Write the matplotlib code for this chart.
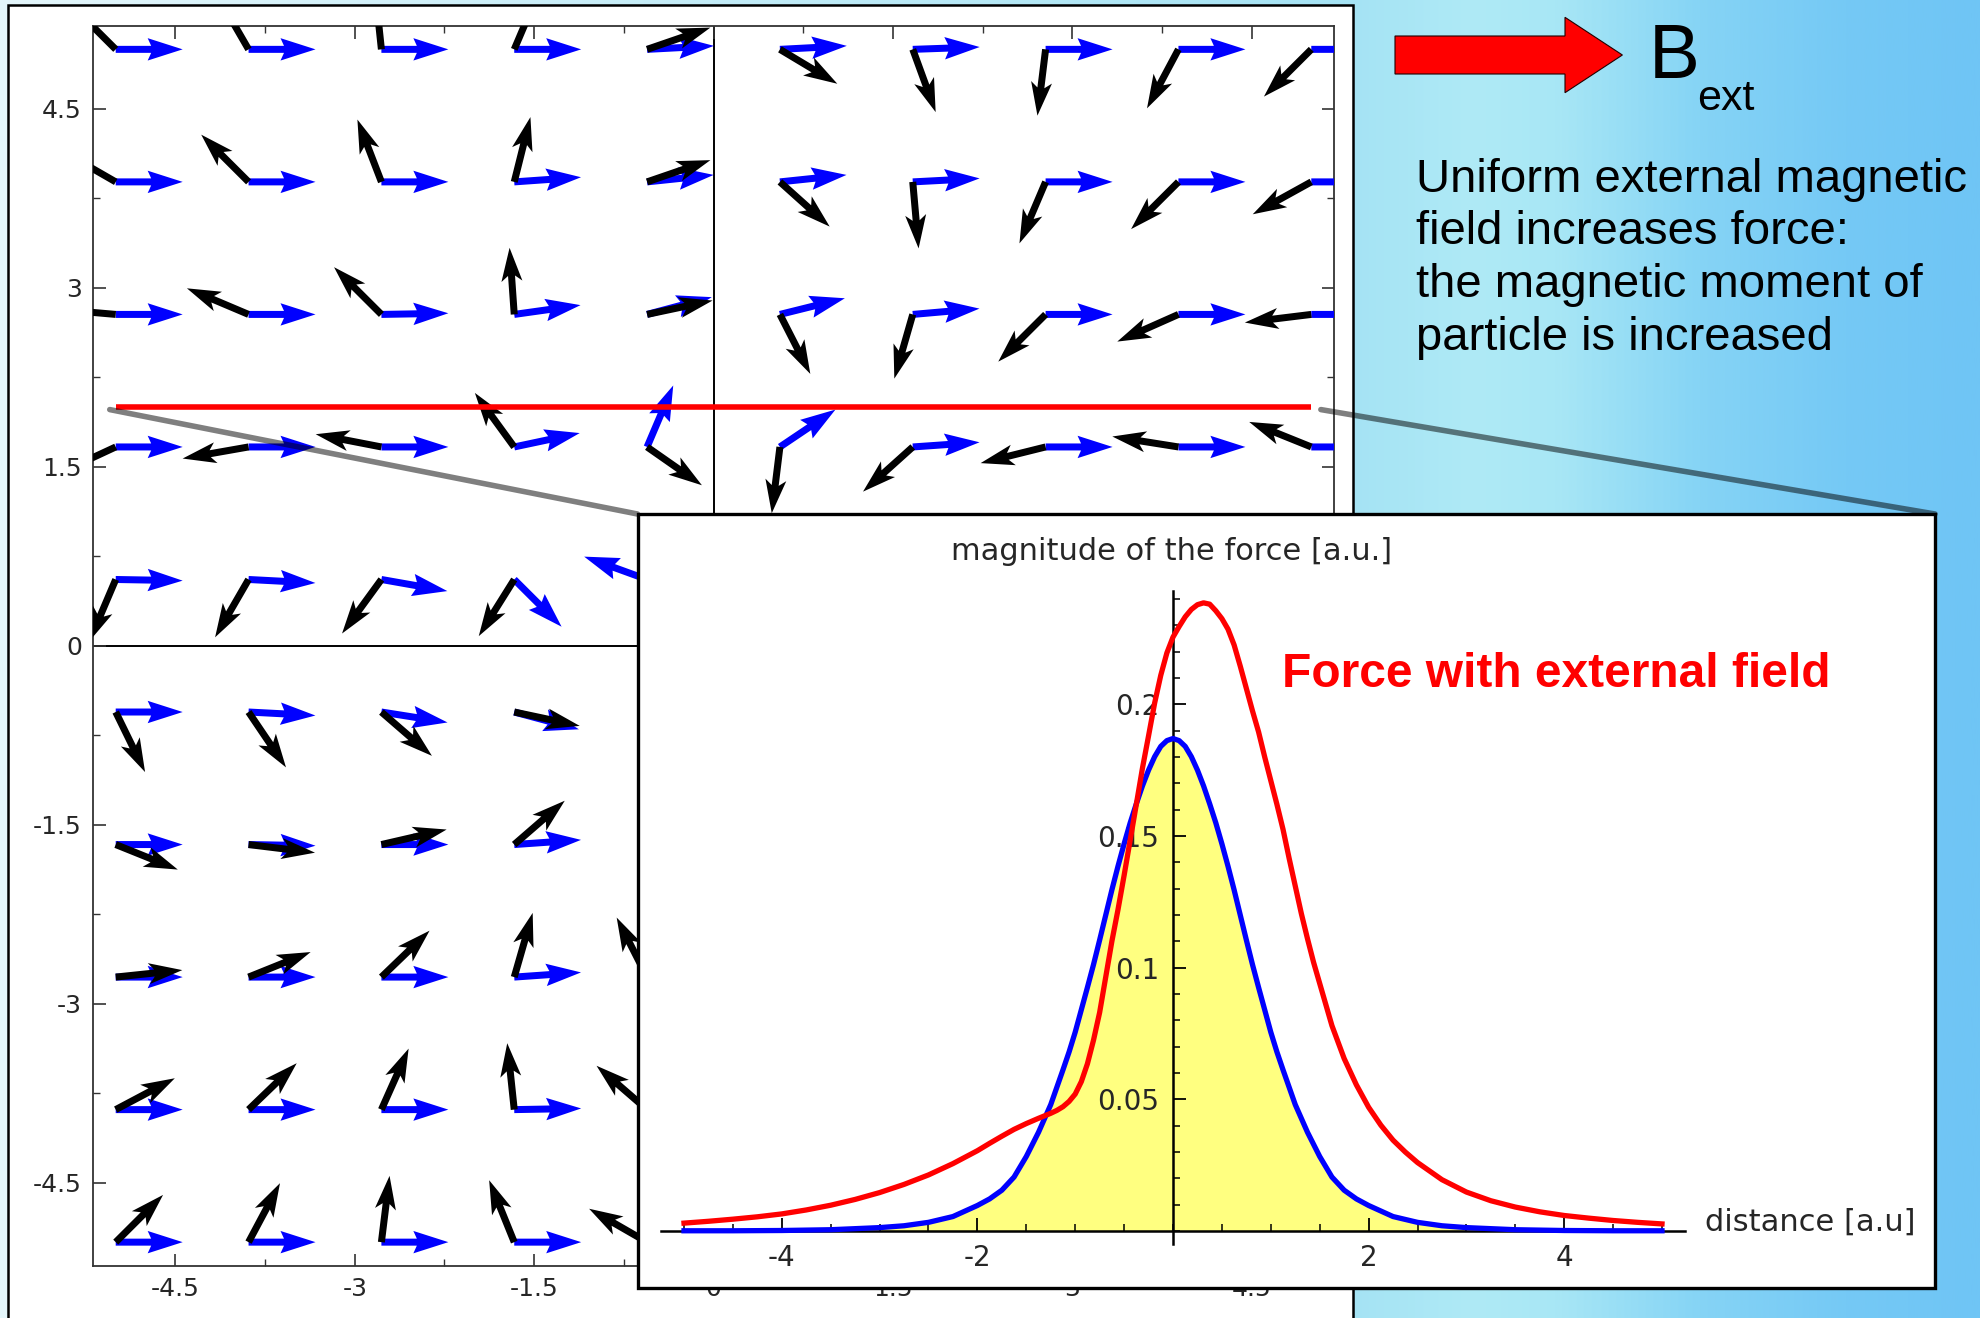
import numpy as np
import matplotlib
matplotlib.use("Agg")
import matplotlib.pyplot as plt
import matplotlib.patches as mpatches
from matplotlib.transforms import Affine2D
from matplotlib.patches import ConnectionPatch
from matplotlib.ticker import MultipleLocator, FixedLocator
from matplotlib.colors import LinearSegmentedColormap

plt.rcParams['axes.unicode_minus'] = False
plt.rcParams['font.family'] = ['DejaVu Sans']

# ---------------- data ----------------
grid_vals = np.linspace(-5, 5, 10)          # quiver grid (x and y)
arrow_len = 0.56                            # arrow length in data units
N = None
# direction (degrees, ccw from +x) of the black arrows, rows from y=5 (top) to y=-5
black_angles = [
    [135, 120, 96, 67, 19, -31, -70, -97, -118, -135],
    [150, 135, 111, 76, 19, -42, -85, -113, -135, -151],
    [175, 157, 135, 94, 12, -63, -106, -135, -156, -173],
    [205, 190, 169, 126, -35, -97, -138, -166, 171, 158],
    [247, 240, 234, 238, N, N, N, N, N, N],
    [-64, -56, -41, -12, N, N, N, N, N, N],
    [-22, -7, 13, 41, N, N, N, N, N, N],
    [6, 22, 44, 74, 117, N, N, N, N, N],
    [28, 44, 66, 96, 139, N, N, N, N, N],
    [45, 62, 83, 112, 150, N, N, N, N, N],
]
# direction of the blue arrows
blue_angles = [
    [0, 0, 0, 0, 3, 3, 2, 0, 0, 0],
    [0, 0, 0, 4, 6, 6, 3, 0, 0, 0],
    [0, 0, 1, 8, 15, 14, 5, 0, 0, 0],
    [0, 0, 0, 12, 67, 34, 4, 0, 0, 0],
    [-1, -3, -10, -45, 160, N, N, N, N, N],
    [0, -3, -9, -15, N, N, N, N, N, N],
    [0, -1, 0, 4, N, N, N, N, N, N],
    [0, 0, 0, 4, N, N, N, N, N, N],
    [0, 0, 0, 1, N, N, N, N, N, N],
    [0, 0, 0, 0, N, N, N, N, N, N],
]
cut_y = 2.0
cut_x = [-5.0, 5.0]

quiver_ticks = [-4.5, -3, -1.5, 0, 1.5, 3, 4.5]
quiver_ticklabels = ["-4.5", "-3", "-1.5", "0", "1.5", "3", "4.5"]

# blue curve (no external field)
dist_blue = [-5, -4.5, -4, -3.5, -3, -2.75, -2.5, -2.25, -2, -1.875, -1.75,
             -1.625, -1.5, -1.375, -1.25, -1.125, -1.0625, -1, -0.9375,
             -0.875, -0.8125, -0.75, -0.6875, -0.625, -0.5625, -0.5, -0.4375,
             -0.375, -0.3125, -0.25, -0.1875, -0.125, -0.0625, 0, 0.0625,
             0.125, 0.1875, 0.25, 0.3125, 0.375, 0.4375, 0.5, 0.5625, 0.625,
             0.6875, 0.75, 0.8125, 0.875, 0.9375, 1, 1.0625, 1.125, 1.25,
             1.375, 1.5, 1.625, 1.75, 1.875, 2, 2.25, 2.5, 2.75, 3, 3.5, 4,
             4.5, 5]
force_no_field = [0.0001, 0.0001, 0.0002, 0.0005, 0.0013, 0.0020, 0.0033,
                  0.0055, 0.0097, 0.0122, 0.0155, 0.0205, 0.0283, 0.0375,
                  0.0480, 0.0612, 0.0680, 0.0755, 0.0840, 0.0925, 0.1012,
                  0.1105, 0.1200, 0.1295, 0.1385, 0.1470, 0.1550, 0.1622,
                  0.1690, 0.1750, 0.1801, 0.1840, 0.1862, 0.1870, 0.1862,
                  0.1840, 0.1801, 0.1750, 0.1690, 0.1622, 0.1550, 0.1470,
                  0.1385, 0.1295, 0.1200, 0.1105, 0.1012, 0.0925, 0.0840,
                  0.0755, 0.0680, 0.0612, 0.0480, 0.0375, 0.0283, 0.0205,
                  0.0155, 0.0122, 0.0097, 0.0055, 0.0033, 0.0020, 0.0013,
                  0.0005, 0.0002, 0.0001, 0.0001]
# red curve (with external field)
dist_red = [-5, -4.75, -4.5, -4.25, -4, -3.75, -3.5, -3.25, -3, -2.75, -2.5,
            -2.25, -2, -1.875, -1.75, -1.625, -1.5, -1.375, -1.25, -1.1875,
            -1.125, -1.0625, -1, -0.9375, -0.875, -0.8125, -0.75, -0.6875,
            -0.625, -0.5625, -0.5, -0.4375, -0.375, -0.3125, -0.25, -0.1875,
            -0.125, -0.0625, 0, 0.0625, 0.125, 0.1875, 0.25, 0.3125, 0.375,
            0.4375, 0.5, 0.5625, 0.625, 0.6875, 0.75, 0.8125, 0.875, 0.9375,
            1, 1.0625, 1.125, 1.1875, 1.25, 1.3125, 1.375, 1.4375, 1.5,
            1.625, 1.75, 1.875, 2, 2.125, 2.25, 2.375, 2.5, 2.75, 3, 3.25,
            3.5, 3.75, 4, 4.25, 4.5, 4.75, 5]
force_with_field = [0.0030, 0.0037, 0.0045, 0.0054, 0.0065, 0.0080, 0.0098,
                    0.0120, 0.0146, 0.0177, 0.0213, 0.0256, 0.0305, 0.0333,
                    0.0360, 0.0386, 0.0408, 0.0428, 0.0447, 0.0458, 0.0472,
                    0.0492, 0.0520, 0.0567, 0.0635, 0.0725, 0.0830, 0.0965,
                    0.1100, 0.1220, 0.1350, 0.1485, 0.1620, 0.1757, 0.1880,
                    0.2005, 0.2110, 0.2195, 0.2255, 0.2295, 0.2332, 0.2360,
                    0.2378, 0.2385, 0.2380, 0.2355, 0.2325, 0.2285, 0.2225,
                    0.2145, 0.2060, 0.1975, 0.1895, 0.1800, 0.1710, 0.1620,
                    0.1525, 0.1415, 0.1310, 0.1205, 0.1110, 0.1020, 0.0940,
                    0.0780, 0.0655, 0.0555, 0.0470, 0.0402, 0.0345, 0.0300,
                    0.0260, 0.0195, 0.0148, 0.0115, 0.0091, 0.0073, 0.0059,
                    0.0049, 0.0040, 0.0033, 0.0027]

inset_xticks = [-4, -2, 2, 4]
inset_xticklabels = ["-4", "-2", "2", "4"]
inset_yticks = [0.05, 0.1, 0.15, 0.2]
inset_yticklabels = ["0.05", "0.1", "0.15", "0.2"]

side_text = ["Uniform external magnetic", "field increases force:",
             "the magnetic moment of", "particle is increased"]

# ---------------- figure ----------------
W, H = 1980, 1318
fig = plt.figure(figsize=(W / 100, H / 100), dpi=100)
px = Affine2D().scale(1 / W, -1 / H).translate(0, 1) + fig.transFigure


def rect(l, t, r, b):
    return [l / W, 1 - b / H, (r - l) / W, (b - t) / H]


# background gradient
ax_bg = fig.add_axes([0, 0, 1, 1], zorder=-10)
ax_bg.axis('off')
cmap = LinearSegmentedColormap.from_list(
    'bg', [(0.0, '#e4f6fb'), (0.683, '#a5e3f4'), (0.747, '#afeaf6'),
           (0.788, '#a8e7f5'), (0.859, '#86d4f5'), (0.934, '#75c9f5'),
           (1.0, '#6fc5f5')])
ax_bg.imshow(np.linspace(0, 1, 800)[None, :], aspect='auto', cmap=cmap,
             extent=[0, 1, 0, 1])
ax_bg.set_xlim(0, 1)
ax_bg.set_ylim(0, 1)

# white panel
fig.add_artist(mpatches.Rectangle((7.5, 5.3), 1345, 1330, transform=px,
                                  facecolor='white', edgecolor='black',
                                  lw=1.8, zorder=-5))

# ---------------- quiver plot ----------------
ax = fig.add_axes(rect(93, 25.5, 1334, 1266), zorder=0)
ax.set_xlim(-5.19, 5.19)
ax.set_ylim(-5.2, 5.2)
row_y = grid_vals[::-1]


def collect(table):
    X, Y, A = [], [], []
    for j, row in enumerate(table):
        for i, a in enumerate(row):
            if a is not None:
                X.append(grid_vals[i])
                Y.append(row_y[j])
                A.append(a)
    A = np.deg2rad(np.array(A, dtype=float))
    return (np.array(X), np.array(Y),
            arrow_len * np.cos(A), arrow_len * np.sin(A))


ax.axhline(0, color='black', lw=1.4, zorder=1)
ax.axvline(0, color='black', lw=1.4, zorder=1)

Xb, Yb, Ub, Vb = collect(blue_angles)
ax.quiver(Xb, Yb, Ub, Vb, angles='xy', scale_units='xy', scale=1,
          units='dots', width=7, headwidth=3.2, headlength=5.0,
          headaxislength=4.5, color='#0000ff', zorder=3)
Xk, Yk, Uk, Vk = collect(black_angles)
ax.quiver(Xk, Yk, Uk, Vk, angles='xy', scale_units='xy', scale=1,
          units='dots', width=7, headwidth=3.0, headlength=4.8,
          headaxislength=4.0, color='black', zorder=4)

ax.plot(cut_x, [cut_y, cut_y], color='#ff0000', lw=4.0, zorder=5,
        solid_capstyle='butt')

ax.xaxis.set_major_locator(FixedLocator(quiver_ticks))
ax.yaxis.set_major_locator(FixedLocator(quiver_ticks))
ax.set_xticklabels(quiver_ticklabels)
ax.set_yticklabels(quiver_ticklabels)
ax.xaxis.set_minor_locator(MultipleLocator(0.75))
ax.yaxis.set_minor_locator(MultipleLocator(0.75))
ax.tick_params(which='both', direction='in', top=True, right=True,
               colors='#333333', labelcolor='#262626', labelsize=18, pad=8)
ax.tick_params(which='major', length=9, width=1.2)
ax.tick_params(which='minor', length=5, width=1.0)
for s in ax.spines.values():
    s.set_linewidth(1.3)
    s.set_color('#333333')

# grey connecting lines
for xa, xb in [(-5.05, 637.5), (5.08, 1935.0)]:
    cp = ConnectionPatch(xyA=(xa, cut_y - 0.02), coordsA=ax.transData,
                         xyB=(xb, 514.0), coordsB=px, color='black',
                         alpha=0.5, lw=4.0, zorder=1)
    fig.add_artist(cp)

# ---------------- inset ----------------
fig.add_artist(mpatches.Rectangle((637.5, 514), 1297.5, 774, transform=px,
                                  facecolor='white', edgecolor='black',
                                  lw=2.4, zorder=2))
ax2 = fig.add_axes(rect(661.5, 591, 1684.5, 1244.2), zorder=3)
ax2.patch.set_visible(False)
ax2.set_xlim(-5.23, 5.23)
ax2.set_ylim(-0.005, 0.243)
ax2.fill_between(dist_blue, 0, force_no_field, color='#ffff80', lw=0, zorder=1)
ax2.plot(dist_blue, force_no_field, color='#0000ff', lw=3.8, zorder=3,
         solid_joinstyle='round')
ax2.plot(dist_red, force_with_field, color='#ff0000', lw=3.8, zorder=4,
         solid_joinstyle='round')
ax2.spines['left'].set_position(('data', 0))
ax2.spines['bottom'].set_position(('data', 0))
ax2.spines['top'].set_visible(False)
ax2.spines['right'].set_visible(False)
for s in ('left', 'bottom'):
    ax2.spines[s].set_linewidth(1.8)
    ax2.spines[s].set_color('black')
ax2.xaxis.set_major_locator(FixedLocator(inset_xticks))
ax2.set_xticklabels(inset_xticklabels)
ax2.yaxis.set_major_locator(FixedLocator(inset_yticks))
ax2.set_yticklabels(inset_yticklabels)
ax2.xaxis.set_minor_locator(MultipleLocator(0.5))
ax2.yaxis.set_minor_locator(MultipleLocator(0.01))
ax2.tick_params(which='both', direction='in', colors='black',
                labelcolor='#262626', labelsize=20)
ax2.tick_params(axis='x', pad=9)
ax2.tick_params(axis='y', pad=10)
ax2.tick_params(which='major', length=9.4, width=1.3)
ax2.tick_params(which='minor', length=5, width=1.1)

fig.text(1172 / W, 1 - 552 / H, "magnitude of the force [a.u.]", ha='center',
         va='center', fontsize=22, color='#262626', zorder=5)
fig.text(1705 / W, 1 - 1222 / H, "distance [a.u]", ha='left', va='center',
         fontsize=22, color='#262626', zorder=5)
fig.text(1282 / W, 1 - 687 / H, "Force with external field", ha='left',
         va='baseline', fontsize=34.5, fontweight='bold', color='#ff0000',
         family=['Liberation Sans', 'DejaVu Sans'], zorder=5)

# ---------------- right side annotation ----------------
fig.add_artist(mpatches.FancyArrow(1395, 55, 227.4, 0, width=38,
                                   head_width=75.4, head_length=57.4,
                                   length_includes_head=True, transform=px,
                                   facecolor='#ff0000', edgecolor='#200000',
                                   lw=0.8, zorder=5))
fig.text(1649 / W, 1 - 78 / H, "B", ha='left', va='baseline', fontsize=55,
         family=['Liberation Sans', 'DejaVu Sans'], color='black', zorder=5)
fig.text(1697 / W, 1 - 110 / H, "ext", ha='left', va='baseline', fontsize=31,
         family=['Liberation Sans', 'DejaVu Sans'], color='black', zorder=5)
for k, line in enumerate(side_text):
    fig.text(1416 / W, 1 - (191.7 + 52.8 * k) / H, line, ha='left',
             va='baseline', fontsize=34,
             family=['Liberation Sans', 'DejaVu Sans'],
             color='black', zorder=5)

fig.savefig("out.png", dpi=100)
